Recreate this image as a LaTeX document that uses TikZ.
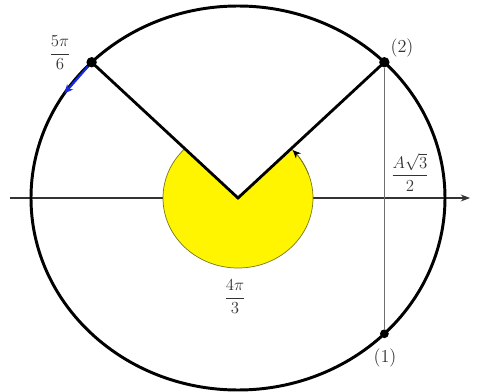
\documentclass[tikz,border=0pt]{standalone}
\usepackage{amsmath,amssymb}
\usepackage{xcolor}
\usepackage{tikz}
\usetikzlibrary{arrows.meta, positioning, calc}
\definecolor{sectoryellow}{RGB}{255,245,0}
\definecolor{sectoredge}{RGB}{120,120,30}
\definecolor{projgray}{RGB}{110,110,110}
\definecolor{movblue}{RGB}{20,40,230}
\tikzset{
  rim/.style={draw=black, line width=2.1pt},
  ray/.style={draw=black, line width=2pt},
  axisline/.style={->, >=Stealth, draw=black!80, line width=0.8pt},
  proj/.style={draw=projgray, line width=0.7pt},
  dot/.style={circle, fill=black, inner sep=0pt, minimum size=2.6mm},
  smalldot/.style={circle, fill=black, inner sep=0pt, minimum size=2.2mm},
  lbl/.style={font=\fontsize{13}{15}\selectfont, text=black!80, inner sep=1pt},
  move/.style={-{Stealth[length=2.2mm, width=2mm]}, draw=movblue, line width=1.6pt}
}
\begin{document}
\begin{tikzpicture}[x=0.25mm, y=0.25mm]
  \useasboundingbox (-238,-194) rectangle (251,198);
  % axis
  \coordinate (xl) at (-228,0);
  \coordinate (xr) at (232,0);
  \draw[axisline] (xl) -- (xr);
  % sector for 4pi/3
  \filldraw[fill=sectoryellow, draw=sectoredge, line width=0.5pt]
    (0,0) -- (135:75 and 70) arc[start angle=135, end angle=405, x radius=75, y radius=70] -- cycle;
  \draw[-{Stealth[length=2mm, width=1.8mm, black]}, draw=sectoredge, line width=0.5pt]
    (20:75 and 70) arc[start angle=20, end angle=43, x radius=75, y radius=70];
  % circle
  \draw[rim] (0,0) ellipse[x radius=207, y radius=192];
  \coordinate (o) at (0,0);
  \node[dot] (p5) at (135:207 and 192) {};
  \node[dot] (p2) at (45:207 and 192) {};
  \node[smalldot] (p1) at (-45:207 and 192) {};
  \coordinate (tip) at (147:207 and 192);
  % rays and projection
  \draw[ray] (p5.center) -- (o) -- (p2.center);
  \draw[proj] (p2) -- (p1);
  \draw[move] (p5) -- (tip);
  % labels
  \node[lbl] (l5) at (-178,145) {$\dfrac{5\pi}{6}$};
  \node[lbl] (l2) at (164,150) {(2)};
  \node[lbl] (lh) at (172,26) {$\dfrac{A\sqrt{3}}{2}$};
  \node[lbl] (l4) at (-3,-99) {$\dfrac{4\pi}{3}$};
  \node[lbl] (l1) at (147,-160) {(1)};
\end{tikzpicture}
\end{document}
